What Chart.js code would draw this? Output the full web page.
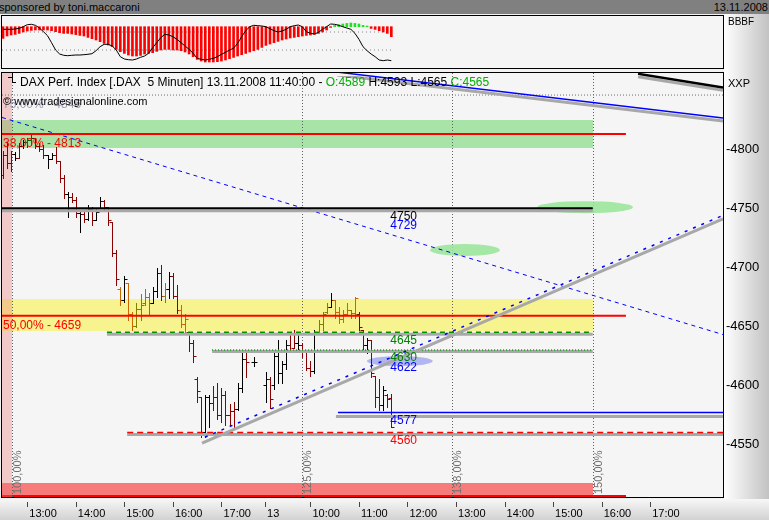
<!DOCTYPE html>
<html>
<head>
<meta charset="utf-8">
<title>DAX Perf. Index 5 Minuten</title>
<script src="https://cdn.jsdelivr.net/npm/chart.js@4.4.1/dist/chart.umd.min.js"></script>
<style>
  body { margin: 0; width: 769px; height: 520px; overflow: hidden; position: relative; background: #f2f2f2; font-family: "Liberation Sans", Arial, sans-serif; }
  #top { position: absolute; left: 0; top: 0; width: 769px; height: 14px; background: #808080; font-size: 11px; line-height: 14px; color: #000; }
  #top .left { position: absolute; left: -1px; }
  #top .right { position: absolute; right: 1px; }
  #side { position: absolute; left: 724px; top: 14px; width: 45px; height: 486px; background: linear-gradient(to right, #ffffff, #c2c2c2); }
  #foot { position: absolute; left: 0; top: 499px; width: 769px; height: 21px; background: linear-gradient(#f7f7f7, #d2d2d2); }
  canvas { position: absolute; left: 0; }
  #indicator { top: 14px; }
  #price { top: 70px; }
</style>
</head>
<body>
<div id="top"><span class="left">sponsored by toni.maccaroni</span><span class="right">13.11.2008</span></div>
<div id="side"></div>
<div id="foot"></div>
<canvas id="indicator" width="769" height="56"></canvas>
<canvas id="price" width="769" height="450"></canvas>
<script>
const FONT = '"Liberation Sans", Arial, sans-serif';
Chart.defaults.font.family = FONT;

// x = bar slot (one slot = one 5 minute bar), y = index points
const X_MIN = -0.25, X_MAX = 178;
const Y_MIN = 4505.3, Y_MAX = 4864.7;

// 5 minute OHLC bars, 12.11. 12:35 - 17:30, then 13.11. 09:05 - 11:40
const barSlot = [0, 1, 2, 3, 4, 5, 6, 7, 8, 9, 10, 11, 12, 13, 14, 15, 16, 17, 18, 19,
  20, 21, 22, 23, 24, 25, 26, 27, 28, 29, 30, 31, 32, 33, 34, 35, 36, 37, 38, 39,
  40, 41, 42, 43, 44, 45, 46, 47, 48, 49, 50, 51, 52, 53, 54, 55, 56, 57, 58, 59, 60, 62,
  65, 66, 67, 68, 69, 70, 71, 72, 73, 74, 75, 76, 77, 78, 79, 80, 81, 82, 83, 84,
  85, 86, 87, 88, 89, 90, 91, 92, 93, 94, 95, 96];
const opens = [4778, 4795, 4788, 4796, 4793, 4803, 4806, 4808, 4810, 4803,
  4800, 4795, 4792, 4795, 4790, 4776, 4762, 4760, 4757, 4746,
  4745, 4741, 4749, 4740, 4750, 4756, 4751, 4738, 4712, 4682,
  4672, 4687, 4660, 4650, 4665, 4670, 4675, 4670, 4680, 4695,
  4676, 4682, 4693, 4676, 4664, 4652, 4645, 4636, 4605, 4590,
  4560, 4590, 4585, 4590, 4575, 4592, 4575, 4578, 4580, 4598, 4622, 4620,
  4600, 4605, 4600, 4625, 4610, 4618, 4634, 4632, 4636, 4634, 4628, 4615, 4612, 4645, 4652, 4662,
  4666, 4672, 4662, 4656, 4660, 4664, 4661, 4660, 4647, 4634, 4638, 4608, 4590, 4583, 4592, 4589];
const highs = [4799, 4806, 4799, 4798, 4805, 4808, 4810, 4813, 4810, 4805,
  4804, 4795, 4797, 4802, 4790, 4778, 4764, 4763, 4760, 4748,
  4747, 4753, 4751, 4750, 4760, 4757, 4751, 4738, 4715, 4683,
  4693, 4687, 4662, 4670, 4677, 4682, 4678, 4683, 4699, 4702,
  4687, 4696, 4695, 4685, 4668, 4660, 4645, 4638, 4607, 4590,
  4592, 4592, 4599, 4602, 4598, 4595, 4584, 4586, 4602, 4630, 4627, 4624,
  4611, 4607, 4630, 4638, 4621, 4638, 4645, 4647, 4643, 4636, 4628, 4621, 4647, 4655, 4662, 4670,
  4678, 4672, 4666, 4664, 4670, 4664, 4675, 4662, 4647, 4640, 4638, 4608, 4605, 4599, 4593, 4593];
const lows = [4776, 4784, 4782, 4791, 4793, 4801, 4802, 4804, 4801, 4799,
  4793, 4784, 4792, 4788, 4772, 4759, 4743, 4755, 4743, 4730,
  4738, 4740, 4736, 4740, 4750, 4749, 4736, 4710, 4685, 4668,
  4671, 4655, 4647, 4649, 4655, 4668, 4660, 4670, 4675, 4672,
  4671, 4674, 4674, 4661, 4649, 4645, 4629, 4620, 4586, 4556,
  4556, 4565, 4579, 4571, 4569, 4566, 4566, 4565, 4579, 4594, 4607, 4616,
  4586, 4581, 4597, 4602, 4602, 4614, 4628, 4632, 4628, 4624, 4613, 4608, 4610, 4645, 4647, 4661,
  4666, 4657, 4653, 4654, 4660, 4657, 4657, 4647, 4630, 4627, 4607, 4582, 4579, 4579, 4582, 4565];
const closes = [4795, 4788, 4796, 4793, 4803, 4806, 4808, 4810, 4803, 4800,
  4795, 4792, 4795, 4790, 4776, 4762, 4760, 4757, 4746, 4745,
  4741, 4749, 4740, 4747, 4756, 4751, 4740, 4712, 4690, 4672,
  4690, 4660, 4650, 4665, 4668, 4675, 4670, 4680, 4695, 4676,
  4682, 4693, 4676, 4664, 4652, 4656, 4636, 4625, 4595, 4560,
  4590, 4585, 4590, 4575, 4592, 4575, 4578, 4580, 4598, 4622, 4620, 4620,
  4605, 4588, 4625, 4610, 4618, 4634, 4630, 4636, 4634, 4628, 4615, 4612, 4645, 4652, 4660, 4666,
  4672, 4662, 4656, 4660, 4664, 4661, 4674, 4649, 4634, 4638, 4610, 4590, 4583, 4596, 4588, 4565];
// bar colouring of the trading system: r falling, k black, g green, o orange, y olive
const tones = ['r', 'r', 'r', 'k', 'r', 'k', 'g', 'g', 'r', 'r',
  'r', 'k', 'k', 'r', 'r', 'r', 'k', 'r', 'r', 'k',
  'r', 'k', 'r', 'k', 'k', 'r', 'r', 'r', 'r', 'o',
  'k', 'o', 'o', 'y', 'y', 'y', 'y', 'k', 'k', 'r',
  'y', 'k', 'r', 'r', 'o', 'o', 'r', 'r', 'r', 'r',
  'k', 'k', 'r', 'r', 'r', 'r', 'r', 'r', 'k', 'k', 'r', 'k',
  'k', 'r', 'k', 'k', 'k', 'k', 'r', 'r', 'k', 'r', 'r', 'r', 'k', 'y', 'y', 'y',
  'k', 'o', 'o', 'o', 'o', 'y', 'o', 'r', 'r', 'k', 'r', 'r', 'r', 'k', 'r', 'r'];

// oscillator panel, one value per slot 0..96
const histo = [-11.7, -9.3, -8.3, -7.7, -6.7, -5.3, -4.3, -3.7, -3.3, -3.3,
  -3.3, -3.3, -4, -5, -6, -6.7, -6.7, -7.3, -8, -8.7,
  -9.3, -10.7, -12, -13.3, -15, -16.7, -18.3, -20, -22.7, -25,
  -26.7, -28.3, -29.3, -29.3, -28.7, -27.3, -26.7, -26, -24.7, -23.3,
  -22.7, -22.7, -23.3, -23.3, -24, -25.3, -27.3, -30, -32.7, -34.3,
  -35.3, -35.3, -35.3, -35, -34.3, -33.3, -32, -30.7, -29.3, -28,
  -26.7, -25.3, -24, -22.7, -20.7, -18.7, -17.3, -16, -14.7, -13.3,
  -12.3, -11.3, -10.7, -10, -9.3, -8.7, -8.3, -7.7, -6.7, -5.3,
  -3.3, -0.7, 1.3, 2, 2.7, 3.3, 3.7, 3.3, 2.7, 1.3,
  0.7, -1.7, -2.7, -4, -5.3, -6.7, -10];
const oscLine = [-2.6, -2.6, -2.6, -2.3, -1.6, 0, 2, 2.4, 1.4, -1.3,
  -5, -9, -16, -23.3, -27.3, -28.6, -29, -28.6, -28.3, -28.3,
  -28, -27.6, -27, -24, -20, -17.6, -17.6, -19.3, -23.3, -30,
  -32.3, -33, -33.3, -32.3, -30.6, -29.3, -26.6, -21, -16, -11,
  -7.6, -8.3, -10, -12.6, -16, -19.3, -22.6, -26.6, -31.6, -32.6,
  -33.3, -32.6, -31.6, -30, -27.6, -25.6, -23.3, -21.6, -16.6, -10,
  -4, 0, 1.4, 1, 0.7, 0, -2, -4, -5.3, -4.3,
  -2.6, 0, 1, 1.7, 0, -5, -6.6, -7.3, -5.6, -2.6,
  0, 2.7, 2.4, 1.4, 0, -1.3, -2.6, -6.6, -12.6, -20,
  -24, -27.3, -30, -33.3, -34, -33.3, -34];
const oscGuides = [-5.3, -23.3];
const oscLastSlot = 96;

// axes
const yTicks = [4550, 4600, 4650, 4700, 4750, 4800];
const timeTickSlot = [6, 18, 30, 42, 54, 64.8, 76, 88, 100, 112, 124, 136, 148, 160];
const timeTickText = ['13:00', '14:00', '15:00', '16:00', '17:00', '13', '10:00', '11:00', '12:00', '13:00', '14:00', '15:00', '16:00', '17:00'];

// Fibonacci price levels and time extensions
const fibPrice = [4846, 4813, 4659];
const fibText = ['75,00% - 4846', '38,00% - 4813', '50,00% - 4659'];
const fibTo = [178, 154, 154];
const timeFibSlot = [2.15, 73.8, 110.9, 145.8];
const timeFibText = ['100,00%', '125,00%', '138,00%', '150,00%'];

// zones (green, yellow, red)
const zoneHigh = [4825, 4673, 4517];
const zoneLow = [4801, 4646, 4505];
const zoneTo = 145.8;

// support / resistance lines
const levelPrice = [4750, 4645, 4630, 4577, 4560];
const levelFrom = [-0.25, 25.7, 51.7, 82.8, 30.7];
const levelTo = [145.8, 145.8, 145.8, 178, 178];

// trend lines [slot, price]
const trendDown = [[-0.25, 4827], [178, 4643]];
const trendUpGray = [[49.2, 4551], [178, 4741]];
const trendUpBlue = [[49.9, 4556], [178, 4744]];
const channelBlue = [[82.6, 4865.5], [178, 4826.5]];
const channelBlack = [[157, 4864], [178, 4852.5]];

// target ellipses
const markSlot = [143.9, 114.2, 98.1];
const markPrice = [4751, 4714.7, 4620.5];

// value tags at the last bar
const tagPrice = [4750, 4729, 4645, 4630, 4622, 4577, 4560];

const tonePalette = { r: '#8b0000', k: '#000000', g: '#006400', o: '#cc6600', y: '#808000' };
const zoneColors = ['#a8e4a8', '#f7f48f', '#f77b7b'];
const tagColors = ['#000000', '#0000ff', '#008000', '#008000', '#0000ff', '#0000ff', '#ff0000'];
const tagNudge = [0, -15, 0, 0, 0, 0, 0];
const markStyle = [
  { rx: 48, ry: 6, color: 'rgba(150,228,150,0.85)' },
  { rx: 35, ry: 6, color: 'rgba(150,228,150,0.85)' },
  { rx: 33, ry: 5, color: 'rgba(120,130,235,0.55)' }
];

// ---------- oscillator panel ----------
const indicatorDecor = {
  id: 'indicatorDecor',
  beforeDraw(chart) {
    const { ctx, chartArea: a } = chart;
    ctx.save();
    ctx.fillStyle = '#f5f5f5';
    ctx.fillRect(a.left, a.top, a.right - a.left, a.bottom - a.top);
    ctx.restore();
  },
  afterDraw(chart) {
    const { ctx, chartArea: a } = chart;
    ctx.save();
    ctx.strokeStyle = '#000';
    ctx.lineWidth = 1;
    ctx.strokeRect(a.left - 0.5, a.top - 0.5, a.right - a.left + 1, a.bottom - a.top + 1);
    ctx.fillStyle = '#000';
    ctx.font = '10px ' + FONT;
    ctx.textBaseline = 'middle';
    ctx.fillText('BBBF', a.right + 5, 8);
    ctx.restore();
  }
};

new Chart(document.getElementById('indicator'), {
  type: 'bar',
  data: {
    datasets: [
      {
        type: 'line',
        data: oscLine.map((v, i) => ({ x: i, y: v })),
        borderColor: '#000',
        borderWidth: 1,
        pointRadius: 0,
        tension: 0,
        order: 1
      },
      {
        type: 'bar',
        data: histo.map((v, i) => ({ x: i, y: v })),
        backgroundColor: histo.map(v => v >= 0 ? '#22e022' : '#ff0000'),
        barThickness: 2,
        order: 2
      },
      ...oscGuides.map(g => ({
        type: 'line',
        data: [{ x: X_MIN, y: g }, { x: oscLastSlot, y: g }],
        borderColor: '#888',
        borderWidth: 1,
        borderDash: [1, 3],
        pointRadius: 0,
        order: 3
      }))
    ]
  },
  options: {
    responsive: false,
    animation: false,
    events: [],
    layout: { padding: { left: 2, right: 46, top: 2, bottom: 2 } },
    plugins: { legend: { display: false }, tooltip: { enabled: false } },
    scales: {
      x: { type: 'linear', min: X_MIN, max: X_MAX, offset: false, display: false },
      y: { min: -41.3, max: 10.7, display: false }
    }
  },
  plugins: [indicatorDecor]
});

// ---------- price panel ----------
const layers = [];
function addLine(points, style) {
  layers.push(Object.assign({
    data: points.map(p => ({ x: p[0], y: p[1] })),
    pointRadius: 0,
    fill: false,
    tension: 0,
    clip: 0,
    borderCapStyle: 'butt'
  }, style));
}
const GRAY = '#a8a8a8';

addLine([[X_MIN, fibPrice[0]], [fibTo[0], fibPrice[0]]], { borderColor: '#707070', borderWidth: 1, borderDash: [1, 2] });
addLine(trendDown, { borderColor: '#0000ff', borderWidth: 1, borderDash: [4, 4] });
// 4750
addLine([[levelFrom[0], levelPrice[0]], [levelTo[0], levelPrice[0]]], { borderColor: GRAY, borderWidth: 3, dy: 2.5 });
addLine([[levelFrom[0], levelPrice[0]], [levelTo[0], levelPrice[0]]], { borderColor: '#000', borderWidth: 2 });
// fib 38 / 50
addLine([[X_MIN, fibPrice[1]], [fibTo[1], fibPrice[1]]], { borderColor: '#ff0000', borderWidth: 2 });
addLine([[X_MIN, fibPrice[2]], [fibTo[2], fibPrice[2]]], { borderColor: '#ff0000', borderWidth: 2 });
// 4645
addLine([[levelFrom[1], levelPrice[1]], [levelTo[1], levelPrice[1]]], { borderColor: GRAY, borderWidth: 3, dy: 2 });
addLine([[levelFrom[1], levelPrice[1]], [levelTo[1], levelPrice[1]]], { borderColor: '#009000', borderWidth: 1.5, borderDash: [5, 4] });
// 4630
addLine([[levelFrom[2], levelPrice[2]], [levelTo[2], levelPrice[2]]], { borderColor: GRAY, borderWidth: 3, dy: 1.5 });
addLine([[levelFrom[2], levelPrice[2]], [levelTo[2], levelPrice[2]]], { borderColor: '#00a000', borderWidth: 1.5, borderDash: [1, 2] });
// 4577
addLine([[levelFrom[3] - 0.5, levelPrice[3]], [levelTo[3], levelPrice[3]]], { borderColor: GRAY, borderWidth: 3, dy: 4 });
addLine([[levelFrom[3], levelPrice[3]], [levelTo[3], levelPrice[3]]], { borderColor: '#0000ff', borderWidth: 1.5 });
// 4560
addLine([[levelFrom[4], levelPrice[4]], [levelTo[4], levelPrice[4]]], { borderColor: GRAY, borderWidth: 3, dy: 2 });
addLine([[levelFrom[4], levelPrice[4]], [levelTo[4], levelPrice[4]]], { borderColor: '#ff0000', borderWidth: 1.5, borderDash: [6, 4] });
// up trend
addLine(trendUpGray, { borderColor: GRAY, borderWidth: 3 });
addLine(trendUpBlue, { borderColor: '#0000ff', borderWidth: 1.5, borderDash: [3, 6] });
// channel at the top
addLine(channelBlue, { borderColor: GRAY, borderWidth: 3, dy: 3 });
addLine(channelBlue, { borderColor: '#0000ff', borderWidth: 1.5 });
addLine(channelBlack, { borderColor: GRAY, borderWidth: 3, dy: 3 });
addLine(channelBlack, { borderColor: '#000', borderWidth: 2.5 });

// first added is drawn first (at the bottom)
layers.forEach((d, i) => { d.order = layers.length - i; });

const shiftPlugin = {
  id: 'shift',
  beforeDatasetDraw(chart, args) {
    const ds = chart.data.datasets[args.index];
    chart.ctx.save();
    if (ds.dy) chart.ctx.translate(0, ds.dy);
  },
  afterDatasetDraw(chart) {
    chart.ctx.restore();
  }
};

const priceDecor = {
  id: 'priceDecor',
  beforeDraw(chart) {
    const { ctx, chartArea: a } = chart;
    ctx.save();
    ctx.fillStyle = '#f5f5f5';
    ctx.fillRect(a.left, a.top, a.right - a.left, a.bottom - a.top);
    ctx.restore();
  },
  beforeDatasetsDraw(chart) {
    const { ctx, chartArea: a, scales: { x, y } } = chart;
    ctx.save();
    ctx.beginPath();
    ctx.rect(a.left, a.top, a.right - a.left, a.bottom - a.top);
    ctx.clip();

    // zones
    const zx = x.getPixelForValue(zoneTo);
    zoneHigh.forEach((hi, i) => {
      const y1 = Math.round(y.getPixelForValue(hi));
      const y2 = Math.round(y.getPixelForValue(zoneLow[i]));
      ctx.fillStyle = zoneColors[i];
      ctx.fillRect(a.left, y1, Math.round(zx) - a.left, y2 - y1);
    });
    ctx.fillStyle = '#ff0000';
    ctx.fillRect(a.left, a.bottom - 2, Math.round(x.getPixelForValue(fibTo[1])) - a.left, 2);

    // 100% strip
    ctx.fillStyle = 'rgba(235,120,120,0.35)';
    ctx.fillRect(a.left, a.top, Math.round(x.getPixelForValue(timeFibSlot[0])) - a.left, a.bottom - a.top);

    // time extensions
    ctx.strokeStyle = '#606060';
    ctx.lineWidth = 1;
    ctx.setLineDash([1, 2]);
    timeFibSlot.forEach(s => {
      const px = Math.round(x.getPixelForValue(s)) + 0.5;
      ctx.beginPath();
      ctx.moveTo(px, a.top);
      ctx.lineTo(px, a.bottom);
      ctx.stroke();
    });
    ctx.setLineDash([]);

    // target ellipses
    markSlot.forEach((s, i) => {
      const st = markStyle[i];
      ctx.fillStyle = st.color;
      ctx.beginPath();
      ctx.ellipse(x.getPixelForValue(s), y.getPixelForValue(markPrice[i]), st.rx, st.ry, 0, 0, Math.PI * 2);
      ctx.fill();
    });

    // OHLC bars
    ctx.lineWidth = 1;
    barSlot.forEach((s, i) => {
      const px = Math.round(x.getPixelForValue(s)) + 0.5;
      const yh = Math.round(y.getPixelForValue(highs[i]));
      const yl = Math.round(y.getPixelForValue(lows[i]));
      const yo = Math.round(y.getPixelForValue(opens[i])) + 0.5;
      const yc = Math.round(y.getPixelForValue(closes[i])) + 0.5;
      ctx.strokeStyle = tonePalette[tones[i]];
      ctx.beginPath();
      ctx.moveTo(px, yh);
      ctx.lineTo(px, yl + 1);
      ctx.moveTo(px - 3, yo);
      ctx.lineTo(px, yo);
      ctx.moveTo(px, yc);
      ctx.lineTo(px + 3, yc);
      ctx.stroke();
    });
    ctx.restore();
  },
  afterDraw(chart) {
    const { ctx, chartArea: a, scales: { x, y } } = chart;
    ctx.save();

    // percent labels of the time extensions
    ctx.fillStyle = '#707070';
    ctx.font = '11px ' + FONT;
    ctx.textBaseline = 'middle';
    ctx.textAlign = 'left';
    timeFibSlot.forEach((s, i) => {
      const px = Math.round(x.getPixelForValue(s)) + 6;
      ctx.save();
      ctx.translate(px, a.bottom - 3);
      ctx.rotate(-Math.PI / 2);
      ctx.fillText(timeFibText[i], 0, 0);
      ctx.restore();
    });

    // Fibonacci level labels
    ctx.font = '12px ' + FONT;
    fibPrice.forEach((p, i) => {
      ctx.fillStyle = i === 0 ? '#9a9ab4' : '#ff0000';
      ctx.fillText(fibText[i], a.left + 1, y.getPixelForValue(p) + 10);
    });

    // value tags
    const tx = x.getPixelForValue(barSlot[barSlot.length - 1]) - 1;
    tagPrice.forEach((p, i) => {
      ctx.fillStyle = tagColors[i];
      ctx.fillText(String(p), tx, y.getPixelForValue(p) + 8 + tagNudge[i]);
    });

    // title line
    const last = barSlot.length - 1;
    const parts = [
      ['DAX Perf. Index [.DAX  5 Minuten] 13.11.2008 11:40:00 - ', '#000'],
      ['O:' + opens[last], '#00b000'],
      [' H:' + highs[last] + ' L:' + lows[last] + ' ', '#000'],
      ['C:' + closes[last], '#00b000']
    ];
    let cx = a.left + 18;
    parts.forEach(([t, c]) => {
      ctx.fillStyle = c;
      ctx.fillText(t, cx, a.top + 10);
      cx += ctx.measureText(t).width;
    });
    // small bar symbol
    ctx.strokeStyle = '#000';
    ctx.lineWidth = 1;
    ctx.beginPath();
    ctx.moveTo(a.left + 10.5, a.top);
    ctx.lineTo(a.left + 10.5, a.top + 10);
    ctx.moveTo(a.left + 6, a.top + 4.5);
    ctx.lineTo(a.left + 10.5, a.top + 4.5);
    ctx.moveTo(a.left + 10.5, a.top + 9.5);
    ctx.lineTo(a.left + 14, a.top + 9.5);
    ctx.stroke();

    ctx.fillStyle = '#000';
    ctx.font = '11px ' + FONT;
    ctx.fillText('\u00a9 www.tradesignalonline.com', a.left + 1, a.top + 29);
    ctx.fillText('XXP', a.right + 5, a.top + 11);

    // frame and time tick marks
    ctx.strokeStyle = '#000';
    ctx.strokeRect(a.left - 0.5, a.top - 0.5, a.right - a.left + 1, a.bottom - a.top + 1);
    ctx.strokeStyle = '#444';
    ctx.beginPath();
    timeTickSlot.forEach(s => {
      const px = Math.round(x.getPixelForValue(s)) + 0.5;
      ctx.moveTo(px, a.bottom + 5);
      ctx.lineTo(px, a.bottom + 10);
    });
    ctx.stroke();
    ctx.restore();
  }
};

new Chart(document.getElementById('price'), {
  type: 'line',
  data: { datasets: layers },
  options: {
    responsive: false,
    animation: false,
    events: [],
    layout: { padding: { left: 2, top: 3, right: 0, bottom: 0 } },
    plugins: { legend: { display: false }, tooltip: { enabled: false } },
    scales: {
      x: {
        type: 'linear',
        min: X_MIN,
        max: X_MAX,
        offset: false,
        grid: { display: false, drawTicks: false },
        border: { display: false },
        afterBuildTicks: s => { s.ticks = timeTickSlot.map(v => ({ value: v })); },
        afterFit: s => { s.height = 23; s.paddingLeft = 0; s.paddingRight = 0; },
        ticks: {
          autoSkip: false,
          maxRotation: 0,
          minRotation: 0,
          align: 'start',
          labelOffset: 2,
          padding: 10,
          color: '#000',
          font: { size: 11 },
          callback: (v, i) => timeTickText[i]
        }
      },
      y: {
        position: 'right',
        min: Y_MIN,
        max: Y_MAX,
        grid: { display: false, drawTicks: false },
        border: { display: false },
        afterBuildTicks: s => { s.ticks = yTicks.map(v => ({ value: v })); },
        afterFit: s => { s.width = 46; s.paddingTop = 0; s.paddingBottom = 0; },
        ticks: {
          padding: 3,
          color: '#000',
          font: { size: 13 },
          callback: v => '-' + v
        }
      }
    }
  },
  plugins: [priceDecor, shiftPlugin]
});
</script>
</body>
</html>
